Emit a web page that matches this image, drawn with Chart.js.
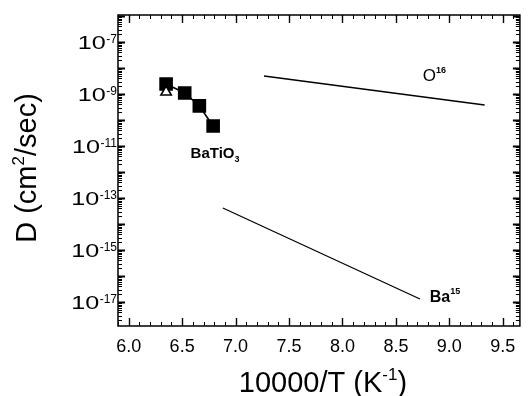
<!DOCTYPE html>
<html>
<head>
<meta charset="utf-8">
<script src="https://cdn.jsdelivr.net/npm/chart.js@4"></script>
<style>
html,body{margin:0;padding:0;background:#fff;}
#wrap{width:530px;height:396px;position:relative;}
</style>
</head>
<body>
<div id="wrap"><canvas id="c"></canvas></div>
<script>
// ---- data ----
const batioX = [6.35, 6.524, 6.661, 6.79];
const batioD = [2.44e-9, 1.1e-9, 3.5e-10, 5.9e-11];
const openX = [6.35];
const openD = [1.2e-9];
const o16X = [7.266, 9.33];
const o16D = [4.95e-9, 3.8e-10];
const ba15X = [6.881, 8.725];
const ba15D = [4.15e-14, 1.31e-17];
const xTickLabels = ['6.0','6.5','7.0','7.5','8.0','8.5','9.0','9.5'];
const yTickExps = [-7, -9, -11, -13, -15, -17];
const xTitle = ['10000/T (K', '-1', ')'];
const yTitle = ['D (cm', '2', '/sec)'];

const pts = (xs, ys) => xs.map((x, i) => ({x: x, y: ys[i]}));
const FONT = '"Liberation Sans", Arial, Helvetica, sans-serif';

function drawRich(ctx, parts, x, y, align) {
  let total = 0;
  parts.forEach(p => { ctx.font = p.font; p.w = ctx.measureText(p.t).width; total += p.w; });
  let cx = align === 'center' ? x - total / 2 : (align === 'right' ? x - total : x);
  ctx.textAlign = 'left';
  ctx.textBaseline = 'alphabetic';
  parts.forEach(p => { ctx.font = p.font; ctx.fillText(p.t, cx, y + (p.dy || 0)); cx += p.w; });
}

const decor = {
  id: 'decor',
  afterDraw(chart) {
    const ctx = chart.ctx, a = chart.chartArea;
    const xs = chart.scales.x, ys = chart.scales.y;
    ctx.save();
    ctx.fillStyle = '#000';
    ctx.strokeStyle = '#000';
    // x ticks (inward, bottom and top)
    for (let i = 59; i <= 97; i++) {
      const v = i / 10;
      if (v < xs.min - 1e-9 || v > xs.max + 1e-9) continue;
      const px = Math.round(xs.getPixelForValue(v)) + 0.5;
      const major = i % 5 === 0;
      const len = major ? 8 : 4;
      ctx.lineWidth = major ? 1.4 : 1;
      ctx.beginPath();
      ctx.moveTo(px, a.bottom); ctx.lineTo(px, a.bottom - len);
      ctx.moveTo(px, a.top); ctx.lineTo(px, a.top + len);
      ctx.stroke();
    }
    // y ticks (log, inward, left and right)
    for (let e = -19; e <= -5; e++) {
      for (let m = 1; m <= 9; m++) {
        const v = m * Math.pow(10, e);
        if (v < ys.min || v > ys.max) continue;
        const py = Math.round(ys.getPixelForValue(v)) + 0.5;
        const major = m === 1;
        const len = major ? 7 : 4;
        ctx.lineWidth = major ? 2 : 1;
        ctx.beginPath();
        ctx.moveTo(a.left, py); ctx.lineTo(a.left + len, py);
        ctx.moveTo(a.right, py); ctx.lineTo(a.right - len, py);
        ctx.stroke();
      }
    }
    // frame
    ctx.lineWidth = 1.5;
    ctx.strokeRect(a.left, a.top, a.right - a.left, a.bottom - a.top);

    // x tick labels
    ctx.font = '18px ' + FONT;
    ctx.textAlign = 'center';
    ctx.textBaseline = 'alphabetic';
    xTickLabels.forEach(l => {
      ctx.fillText(l, xs.getPixelForValue(parseFloat(l)), a.bottom + 26);
    });
    // y tick labels 10^e
    yTickExps.forEach(e => {
      const py = ys.getPixelForValue(Math.pow(10, e));
      const ex = String(e);
      ctx.font = '12px ' + FONT;
      const ew = ctx.measureText(ex).width;
      const right = a.left - 1;
      ctx.textAlign = 'left';
      ctx.fillText(ex, right - ew, py + 0.5);
      ctx.save();
      ctx.translate(right - ew - 0.5, py + 7);
      ctx.scale(1.4, 1);
      ctx.font = '18px ' + FONT;
      ctx.textAlign = 'right';
      ctx.fillText('10', 0, 0);
      ctx.restore();
    });
    // x axis title
    const big = '29px ' + FONT, sup = '17px ' + FONT;
    drawRich(ctx, [
      {t: xTitle[0], font: big},
      {t: xTitle[1], font: sup, dy: -12},
      {t: xTitle[2], font: big}
    ], (a.left + a.right) / 2 + 4, 392, 'center');
    // y axis title
    ctx.save();
    ctx.translate(36, 168);
    ctx.rotate(-Math.PI / 2);
    drawRich(ctx, [
      {t: yTitle[0], font: big},
      {t: yTitle[1], font: sup, dy: -12},
      {t: yTitle[2], font: big}
    ], 0, 0, 'center');
    ctx.restore();

    // annotations (anchored in data units)
    const ann = chart.options.plugins.decor.labels;
    ann.forEach(l => {
      const px = xs.getPixelForValue(l.x), py = ys.getPixelForValue(l.y);
      drawRich(ctx, l.parts, px, py, 'left');
    });
    ctx.restore();
  }
};

new Chart(document.getElementById('c'), {
  type: 'scatter',
  data: {
    datasets: [
      {
        label: 'open',
        data: pts(openX, openD),
        pointStyle: 'triangle',
        pointRadius: 6,
        backgroundColor: '#fff',
        borderColor: '#000',
        pointBorderWidth: 1.6,
        showLine: false
      },
      {
        label: 'BaTiO3',
        data: pts(batioX, batioD),
        pointStyle: 'rect',
        pointRadius: 8.5,
        backgroundColor: '#000',
        borderColor: '#000',
        borderWidth: 1.6,
        showLine: true
      },
      {
        label: 'O16',
        data: pts(o16X, o16D),
        pointRadius: 0,
        borderColor: '#000',
        borderWidth: 1.3,
        showLine: true
      },
      {
        label: 'Ba15',
        data: pts(ba15X, ba15D),
        pointRadius: 0,
        borderColor: '#000',
        borderWidth: 1.3,
        showLine: true
      }
    ]
  },
  options: {
    responsive: true,
    maintainAspectRatio: false,
    animation: false,
    layout: {padding: {left: 118, right: 2, top: 15, bottom: 70}},
    scales: {
      x: {type: 'linear', min: 5.9, max: 9.66, display: false},
      y: {type: 'logarithmic', min: 1.2e-18, max: 1.1e-6, display: false}
    },
    plugins: {
      legend: {display: false},
      tooltip: {enabled: false},
      decor: {
        labels: [
          {x: 6.579, y: 3.5e-12, parts: [
            {t: 'BaTiO', font: 'bold 15px ' + FONT},
            {t: '3', font: 'bold 9px ' + FONT, dy: 4}
          ]},
          {x: 8.752, y: 3.2e-9, parts: [
            {t: 'O', font: '17px ' + FONT},
            {t: '16', font: 'bold 9px ' + FONT, dy: -8}
          ]},
          {x: 8.816, y: 1.0e-17, parts: [
            {t: 'Ba', font: 'bold 16px ' + FONT},
            {t: '15', font: 'bold 9px ' + FONT, dy: -8}
          ]}
        ]
      }
    }
  },
  plugins: [decor]
});
</script>
</body>
</html>
